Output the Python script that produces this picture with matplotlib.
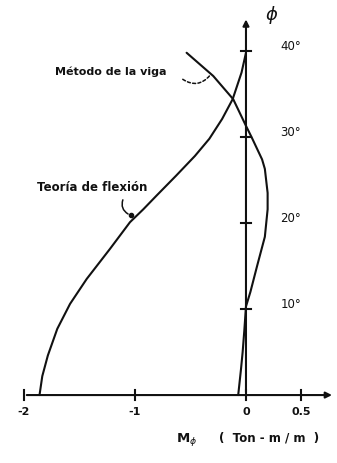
import matplotlib
matplotlib.use("Agg")
import matplotlib.pyplot as plt

# M_phi (Ton-m/m) against phi (degrees), two solutions
teoria_phi = [0, 2.2, 4.6, 7.7, 10.6, 13.5, 17.0, 20.1, 21.6, 23.2, 25.5, 27.8,
              29.8, 32.1, 34.4, 37.5, 39.8]
teoria_m = [-1.86, -1.835, -1.785, -1.7, -1.585, -1.435, -1.225, -1.045, -0.925,
            -0.805, -0.63, -0.46, -0.33, -0.215, -0.12, -0.04, 0.0]

viga_phi = [0, 3, 5, 7.5, 10.3, 12, 15, 18.4, 21.6, 23.5, 26.3, 27.4, 30, 31.3,
            34.4, 37.1, 39.8]
viga_m = [-0.07, -0.045, -0.03, -0.015, 0.0, 0.04, 0.10, 0.17, 0.195, 0.195, 0.17,
          0.145, 0.05, 0.0, -0.115, -0.295, -0.535]

m_ticks = [-2, -1, 0, 0.5]
m_labels = ["-2", "-1", "0", "0.5"]
phi_ticks = [10, 20, 30, 40]
phi_labels = ["10°", "20°", "30°", "40°"]

fig = plt.figure(figsize=(3.37, 4.64), dpi=100)
ax = fig.add_axes([0, 0, 1, 1])
ax.set_xlim(-2.216, 0.82)
ax.set_ylim(-7.9, 46.05)
ax.axis("off")

ink = "#111111"
lw = 1.5

# axes drawn by hand, with arrow heads
ax.annotate("", xy=(0.80, 0), xytext=(-2.0, 0),
            arrowprops=dict(arrowstyle="-|>", color=ink, lw=lw, mutation_scale=9))
ax.annotate("", xy=(0, 44.0), xytext=(0, 0),
            arrowprops=dict(arrowstyle="-|>", color=ink, lw=lw, mutation_scale=9))

for m in m_ticks:
    ax.plot([m, m], [-0.6, 0.6], color=ink, lw=lw)
for p in phi_ticks:
    ax.plot([-0.045, 0.045], [p, p], color=ink, lw=lw)

for m, lab in zip(m_ticks, m_labels):
    ax.text(m, -1.9, lab, ha="center", va="center", fontsize=8,
            fontweight="bold", color=ink)
for p, lab in zip(phi_ticks, phi_labels):
    ax.text(0.31, p + 0.6, lab, ha="left", va="center", fontsize=8.5,
            color=ink)

ax.text(0.23, 44.3, r"$\phi$", ha="center", va="center", fontsize=13, color=ink)
ax.text(-0.63, -5.0, r"$\mathbf{M}_{\phi}$", ha="left", va="center", fontsize=9.5, color=ink)
ax.text(-0.24, -4.85, "(  Ton - m / m  )", ha="left", va="center", fontsize=8.5,
        fontweight="bold", color=ink)

# curves
ax.plot(teoria_m, teoria_phi, color=ink, lw=lw, solid_capstyle="round",
        solid_joinstyle="round")
ax.plot(viga_m, viga_phi, color=ink, lw=lw, solid_capstyle="round",
        solid_joinstyle="round")

# labels with leaders
ax.text(-1.72, 37.7, "Método de la viga", ha="left", va="center", fontsize=8,
        fontweight="bold", color=ink)
ax.annotate("", xy=(-0.31, 37.4), xytext=(-0.59, 36.9),
            arrowprops=dict(arrowstyle="-", color=ink, lw=1.1, ls=(0, (2, 1.5)),
                            connectionstyle="arc3,rad=0.5"))

ax.text(-1.88, 24.3, "Teoría de flexión", ha="left", va="center", fontsize=8.5,
        fontweight="bold", color=ink)
ax.annotate("", xy=(-1.04, 20.9), xytext=(-1.1, 23.0),
            arrowprops=dict(arrowstyle="-", color=ink, lw=1.1,
                            connectionstyle="arc3,rad=0.5"))
ax.plot([-1.04], [20.9], "o", color=ink, ms=3)

fig.savefig("out.png", dpi=100, facecolor="white")
